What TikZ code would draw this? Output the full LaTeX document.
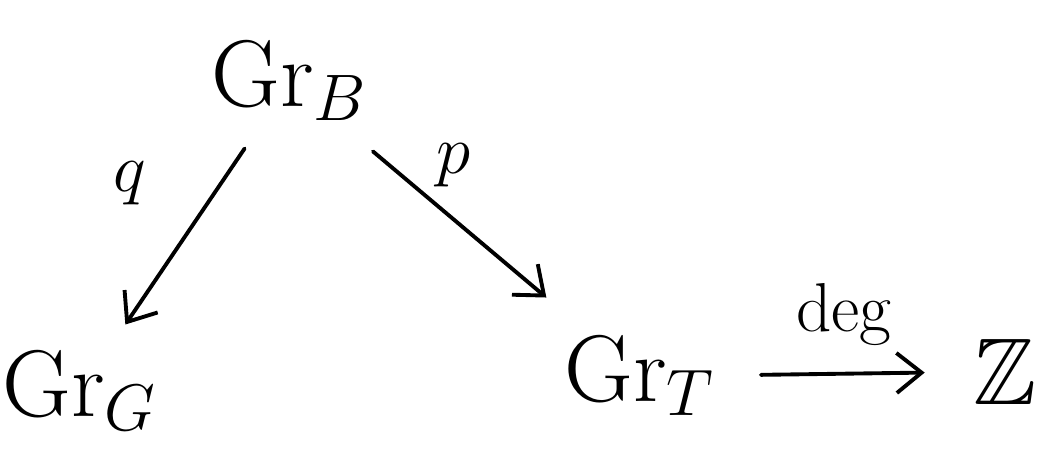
\documentclass[tikz,border=0pt]{standalone}
\usepackage{amssymb}
\usepackage{tikz}
\usetikzlibrary{arrows.meta,positioning}

\begin{document}
\begin{tikzpicture}[
  obj/.style={inner sep=2pt,font=\huge,scale=2.6},
  lab/.style={font=\huge,scale=1.9},
  a/.style={-{Straight Barb[length=5mm,width=8mm]},line width=2.2pt,line cap=round}
]
  \useasboundingbox (0,0) rectangle (21.04,8.98);
  \node[obj] (grb) at (5.8,7.35) {$\mathrm{Gr}_B$};
  \node[obj] (grg) at (1.6,1.15) {$\mathrm{Gr}_G$};
  \node[obj] (grt) at (12.8,1.45) {$\mathrm{Gr}_T$};
  \node[obj] (zz) at (20.1,1.55) {$\mathbb{Z}$};
  \draw[a,shorten <=12pt,shorten >=12pt] (grb) -- node[lab,left=34pt,pos=0.25] {$q$} (grg);
  \draw[a,shorten <=18pt,shorten >=26pt] (grb) -- node[lab,above=10pt,pos=0.45] {$p$} (grt);
  \draw[a,shorten <=20pt,shorten >=22pt] (grt) -- node[lab,above=8pt] {$\deg$} (zz);
\end{tikzpicture}
\end{document}
